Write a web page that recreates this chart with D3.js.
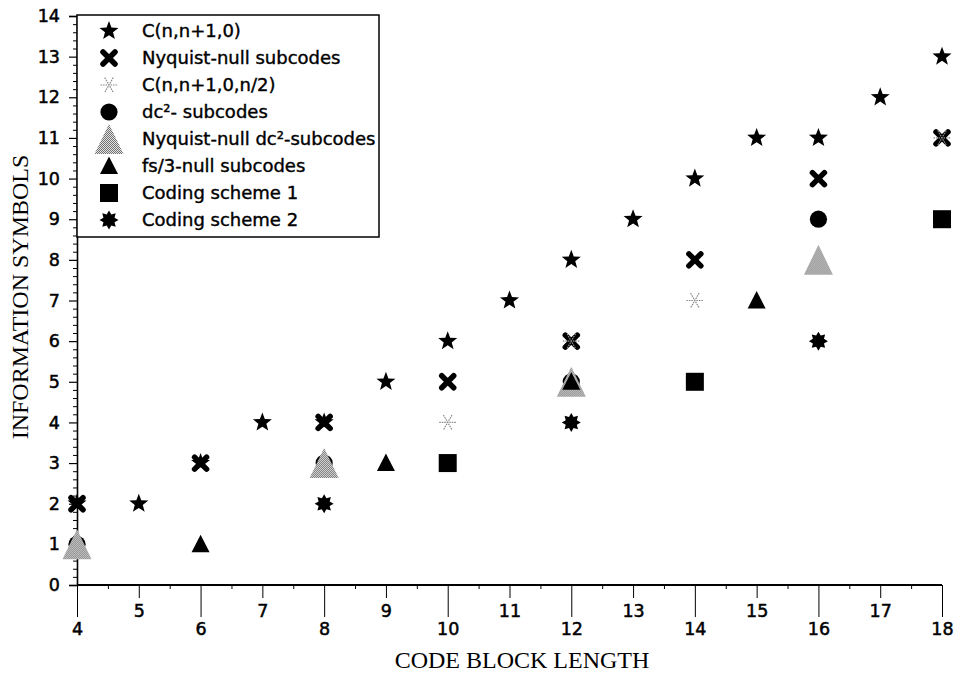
<!DOCTYPE html>
<html><head><meta charset="utf-8">
<script src="https://cdn.jsdelivr.net/npm/d3@7"></script>
<style>body{margin:0;background:#fff}</style></head>
<body><svg id="chart" width="954" height="675"></svg>
<script>
// ---- data ----
const legendLabels = ["C(n,n+1,0)", "Nyquist-null subcodes", "C(n,n+1,0,n/2)", " dc\u00B2- subcodes",
  "Nyquist-null dc\u00B2-subcodes", "fs/3-null subcodes", "Coding scheme 1", "Coding scheme 2"];
const cnn10      = [[4,2],[5,2],[6,3],[7,4],[8,4],[9,5],[10,6],[11,7],[12,8],[13,9],[14,10],[15,11],[16,11],[17,12],[18,13]];
const nyqNull    = [[4,2],[6,3],[8,4],[10,5],[12,6],[14,8],[16,10],[18,11]];
const cnn10half  = [[10,4],[12,6],[14,7],[18,11]];
const dc2        = [[4,1],[8,3],[12,5],[16,9]];
const nyqDc2     = [[4,1],[8,3],[12,5],[16,8]];
const fs3Null    = [[6,1],[9,3],[12,5],[15,7]];
const scheme1    = [[10,3],[14,5],[18,9]];
const scheme2    = [[8,2],[12,4],[16,6]];
const xMajorEven = [4,6,8,10,12,14,16,18];
const xMajorOdd  = [5,7,9,11,13,15,17];
const yTicks     = d3.range(0,15);

const seriesData = [cnn10, nyqNull, cnn10half, dc2, nyqDc2, fs3Null, scheme1, scheme2];
const seriesType = ["star","cross","asterisk","circle","grayTri","blackTri","square","burst"];

// ---- setup ----
const svg = d3.select("#chart");
svg.append("rect").attr("width",954).attr("height",675).attr("fill","#fff");
const defs = svg.append("defs");
const pat = defs.append("pattern").attr("id","dither").attr("width",2).attr("height",2).attr("patternUnits","userSpaceOnUse");
pat.append("rect").attr("width",2).attr("height",2).attr("fill","#e4e4e4");
pat.append("rect").attr("x",0).attr("y",0).attr("width",1).attr("height",1).attr("fill","#707070");
pat.append("rect").attr("x",1).attr("y",1).attr("width",1).attr("height",1).attr("fill","#707070");

const x = d3.scaleLinear().domain([4,18]).range([77,942]);
const y = d3.scaleLinear().domain([0,14]).range([585,16]);

const sans = "'DejaVu Sans', sans-serif";
const serif = "'Liberation Serif','Times New Roman', serif";
function thick(sel, w){ return sel.attr("stroke","#000").attr("stroke-width",w).attr("paint-order","stroke"); }

// ---- axes ----
const yMinor = svg.append("g").attr("transform",`translate(${x(4)},0)`)
  .call(d3.axisLeft(y).tickValues(d3.range(0,14.01,0.2).filter(v=>Math.abs(v-Math.round(v))>1e-6)).tickSize(4).tickFormat(""));
yMinor.select(".domain").remove();
yMinor.selectAll("line").attr("stroke","#000").attr("stroke-width",1);
const yAx = svg.append("g").attr("transform",`translate(${x(4)},0)`)
  .call(d3.axisLeft(y).tickValues(yTicks).tickSize(8).tickPadding(9).tickFormat(d3.format("d")));
yAx.select(".domain").attr("stroke","#000").attr("stroke-width",1.6);
yAx.selectAll("line").attr("stroke","#000").attr("stroke-width",1.2);
thick(yAx.selectAll("text").attr("font-family",sans).attr("font-size",17.5).attr("fill","#000"),0.5);

const xMinor = svg.append("g").attr("transform",`translate(0,${y(0)})`)
  .call(d3.axisBottom(x).tickValues(d3.range(4.5,18,1)).tickSize(4).tickFormat(""));
xMinor.select(".domain").remove();
xMinor.selectAll("line").attr("stroke","#000").attr("stroke-width",1);
const xOdd = svg.append("g").attr("transform",`translate(0,${y(0)})`)
  .call(d3.axisBottom(x).tickValues(xMajorOdd).tickSize(13).tickPadding(7).tickFormat(d3.format("d")));
xOdd.select(".domain").remove();
xOdd.selectAll("line").attr("stroke","#000").attr("stroke-width",1);
thick(xOdd.selectAll("text").attr("font-family",sans).attr("font-size",17.5).attr("fill","#000"),0.5);
const xEven = svg.append("g").attr("transform",`translate(0,${y(0)})`)
  .call(d3.axisBottom(x).tickValues(xMajorEven).tickSize(32).tickPadding(6).tickFormat(d3.format("d")));
xEven.select(".domain").attr("stroke","#000").attr("stroke-width",1.8).attr("d",`M${x(4)},0H${x(18)}`);
xEven.selectAll("line").attr("stroke","#000").attr("stroke-width",1);
thick(xEven.selectAll("text").attr("font-family",sans).attr("font-size",17.5).attr("fill","#000"),0.5);

// titles
svg.append("text").attr("x",522).attr("y",668).attr("text-anchor","middle")
  .attr("font-family",serif).attr("font-size",24).text("CODE BLOCK LENGTH");
svg.append("text").attr("transform",`translate(28,297) rotate(-90)`).attr("text-anchor","middle")
  .attr("font-family",serif).attr("font-size",24).text("INFORMATION SYMBOLS");

// ---- symbols ----
function starPath(ro, ri, n, rot){
  let p = [];
  for(let i=0;i<2*n;i++){
    const r = i%2===0 ? ro : ri;
    const a = rot + i*Math.PI/n;
    p.push([r*Math.cos(a), r*Math.sin(a)]);
  }
  return "M" + p.map(d=>d[0].toFixed(2)+","+d[1].toFixed(2)).join("L") + "Z";
}
function drawSymbol(g, type){
  switch(type){
    case "star":
      g.append("path").attr("d",starPath(10,4.2,5,-Math.PI/2)).attr("fill","#000"); break;
    case "cross":
      g.append("path").attr("d","M-6,-6L6,6M-6,6L6,-6").attr("stroke","#000").attr("stroke-width",5.5)
        .attr("stroke-linecap","round").attr("fill","none"); break;
    case "asterisk": {
      const r = 8.5;
      const angs = [0, Math.PI/3, 2*Math.PI/3];
      g.append("path").attr("d", angs.map(a=>`M${(-r*Math.cos(a)).toFixed(2)},${(-r*Math.sin(a)).toFixed(2)}L${(r*Math.cos(a)).toFixed(2)},${(r*Math.sin(a)).toFixed(2)}`).join(""))
        .attr("stroke","#8a8a8a").attr("stroke-width",1.2).attr("stroke-dasharray","1.6,0.9").attr("fill","none");
      break; }
    case "circle":
      g.append("circle").attr("r",8.6).attr("fill","#000"); break;
    case "grayTri":
      g.append("path").attr("d","M0,-15L14.5,15L-14.5,15Z").attr("fill","url(#dither)"); break;
    case "blackTri":
      g.append("path").attr("d","M0,-9.5L9,8L-9,8Z").attr("fill","#000"); break;
    case "square":
      g.append("rect").attr("x",-9).attr("y",-9).attr("width",18).attr("height",18).attr("fill","#000"); break;
    case "burst":
      g.append("path").attr("d",starPath(9.5,6,8,-Math.PI/2)).attr("fill","#000"); break;
  }
}

seriesData.forEach((data,i)=>{
  const sg = svg.append("g").attr("class","series-"+i);
  data.forEach(d=>{
    const g = sg.append("g").attr("transform",`translate(${x(d[0])},${y(d[1])})`);
    drawSymbol(g, seriesType[i]);
  });
});

// ---- legend ----
const lg = svg.append("g");
lg.append("rect").attr("x",x(4)).attr("y",15).attr("width",302).attr("height",222)
  .attr("fill","#fff").attr("stroke","#000").attr("stroke-width",1.5);
legendLabels.forEach((lab,i)=>{
  const cy = 31 + i*27;
  const g = lg.append("g").attr("transform",`translate(109,${cy})`);
  drawSymbol(g, seriesType[i]);
  thick(lg.append("text").attr("x",142).attr("y",cy).attr("dy","0.36em")
    .attr("font-family",sans).attr("font-size",18).attr("fill","#000").text(lab),0.4);
});
</script>
</body></html>
